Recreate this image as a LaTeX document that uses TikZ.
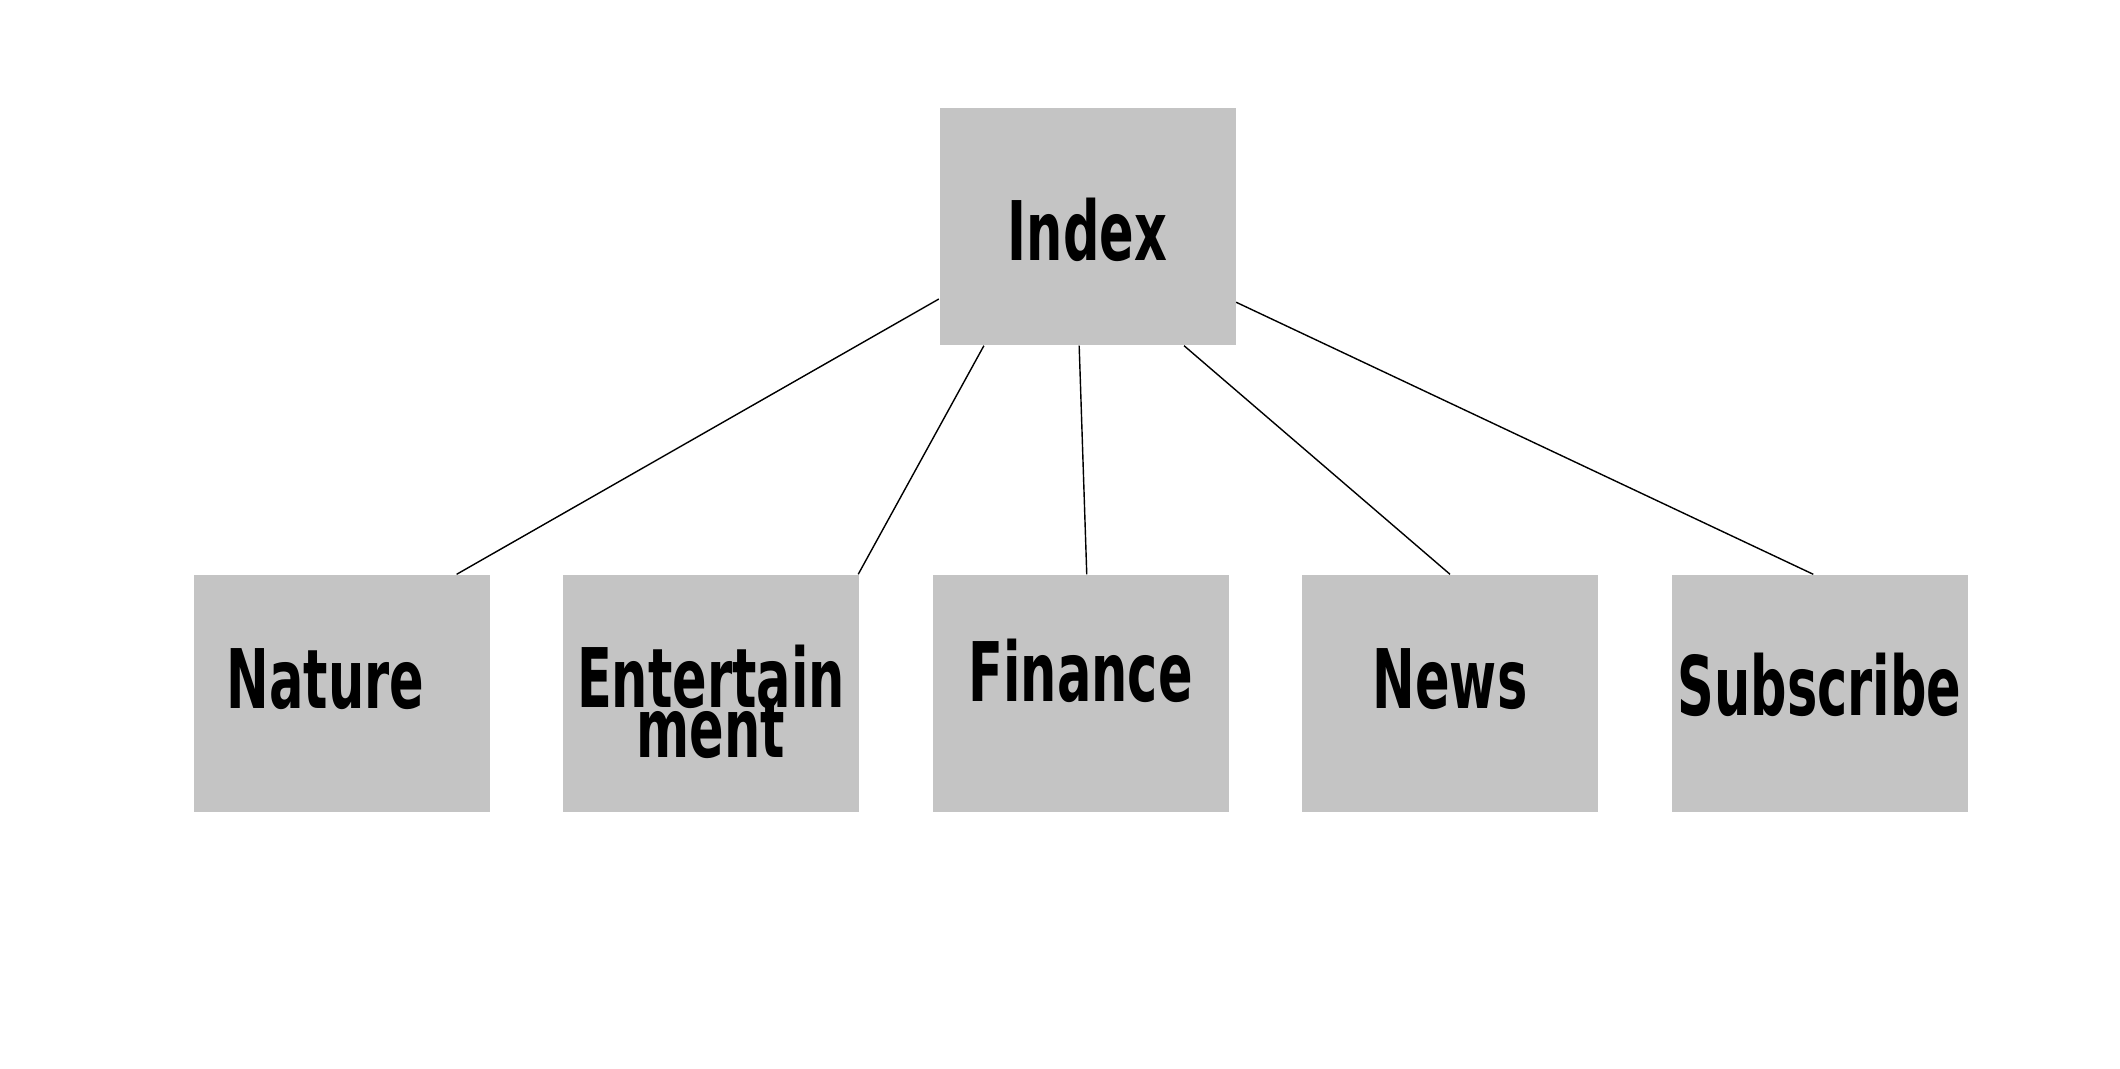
\documentclass[tikz,border=0pt]{standalone}
\usepackage{fontspec}
\usepackage{tikz}
\usetikzlibrary{positioning}
\newfontfamily\boxfont{DejaVu Sans Bold}[FakeStretch=0.62]
\newcommand\boxsize{\fontsize{23.4pt}{14.2pt}\selectfont\lineskiplimit=-50pt\relax}
\definecolor{boxgray}{RGB}{196,196,196}

\begin{document}
\begin{tikzpicture}[auto,node distance=3.695cm,baseline=0]
			\tikzstyle{every node}=[shape=rectangle,fill=boxgray,text=black,minimum width=2.96cm,minimum height=2.37cm,inner sep=0pt,text height=0.29cm,text depth=0pt,font=\boxfont\boxsize]
			\tikzstyle{every edge}=[line width=0.4pt,draw=black]
			\useasboundingbox (0,0) rectangle (21.2,-10.68);
			
			\node         (fin) at (10.805,-6.935) [text height=0.15cm] {Finance};
			\node         (ent) [left of=fin, align=center, text height=1.27cm] {Entertain\\ment};
			\node         (nat) [left of=ent]    {Nature\hspace*{0.32cm}};
			\node         (news) [right of=fin]  {News};
			\node         (sub) [right of=news, text height=0.43cm] {Subscribe};
			\node         (idx) at (10.875,-2.265) [text height=0.67cm] {Index};
			
			\draw (idx.206) edge (nat.46);
			\draw (idx.229) edge (ent.39);
			\draw (idx.266.4) edge (fin.87);
			\draw (idx.309.2) edge (news.north);
			\draw (idx.333.5) edge (sub.93);
			\end{tikzpicture}
\end{document}
